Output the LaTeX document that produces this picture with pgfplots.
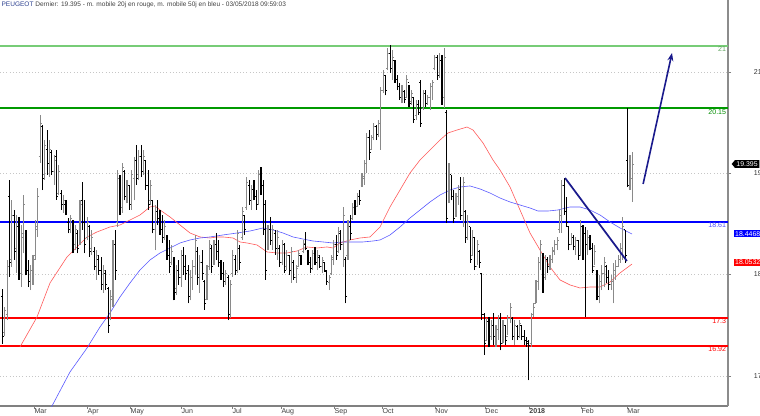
\documentclass[border=0pt]{standalone}
\usepackage{pgfplots}
\pgfplotsset{compat=1.18}
\usepackage{pgfplotstable}
\usepackage{fontspec}
\setmainfont{Liberation Sans}
\usetikzlibrary{shapes.symbols,arrows.meta}
\definecolor{barG}{HTML}{8A8A8A}
\definecolor{lvgreenA}{HTML}{77CC77}
\definecolor{lvgreenB}{HTML}{009900}
\definecolor{navyT}{HTML}{1A1A8C}
\pgfdeclareplotmark{otick}{\pgfpathmoveto{\pgfqpoint{-\pgfplotmarksize}{0pt}}\pgfpathlineto{\pgfqpoint{0pt}{0pt}}\pgfusepathqstroke}
\pgfdeclareplotmark{ctick}{\pgfpathmoveto{\pgfqpoint{0pt}{0pt}}\pgfpathlineto{\pgfqpoint{\pgfplotmarksize}{0pt}}\pgfusepathqstroke}
\pgfplotstableread{
i lo hi op cl
0 16.95 17.70 17.60 17.05
1 17.05 17.45 17.10 17.40
2 17.27 18.09 17.35 18.00
3 17.86 19.18 18.95 18.05
4 18.00 18.90 18.10 18.70
5 18.09 18.77 18.70 18.20
6 17.91 18.70 18.25 18.55
7 17.82 18.67 18.55 17.95
8 17.72 18.57 17.90 18.45
9 18.18 18.97 18.40 18.85
10 17.88 18.50 18.45 17.95
11 17.72 18.09 17.95 17.80
12 17.68 18.02 17.80 17.95
13 17.75 18.16 17.90 18.10
14 18.09 18.63 18.15 18.55
15 18.40 19.07 18.50 18.95
16 19.41 20.06 19.50 19.95
17 19.04 19.93 19.90 19.20
18 19.18 19.72 19.25 19.65
19 19.25 19.86 19.60 19.40
20 19.22 19.72 19.40 19.60
21 19.25 19.59 19.55 19.30
22 19.11 19.52 19.30 19.45
23 18.91 19.59 19.50 18.95
24 18.97 19.38 19.00 19.30
25 18.77 19.04 19.00 18.85
26 18.73 18.97 18.85 18.90
27 18.70 18.90 18.85 18.75
28 18.45 18.66 18.60 18.50
29 18.45 18.70 18.50 18.65
30 18.18 18.63 18.60 18.25
31 18.22 18.57 18.30 18.50
32 18.18 18.50 18.45 18.25
33 18.29 18.90 18.30 18.85
34 18.50 19.15 18.90 18.60
35 18.18 18.90 18.60 18.30
36 18.36 18.67 18.40 18.60
37 18.13 18.57 18.55 18.20
38 18.16 18.50 18.25 18.40
39 17.95 18.26 18.20 18.00
40 17.82 18.22 18.00 18.15
41 17.89 18.16 18.10 17.95
42 17.68 18.13 17.95 17.75
43 17.64 18.02 17.75 17.95
44 17.68 17.95 17.90 17.75
45 17.10 17.72 17.70 17.20
46 17.27 17.68 17.30 17.60
47 17.45 18.36 17.55 18.30
48 17.82 18.50 18.30 17.95
49 18.54 19.31 18.60 19.20
50 18.70 19.24 19.20 18.80
51 18.73 19.41 18.80 19.35
52 18.90 19.31 19.30 18.95
53 18.86 19.18 18.95 19.10
54 18.77 19.11 19.10 18.85
55 18.77 19.31 18.85 19.25
56 18.90 19.49 19.20 19.45
57 19.11 19.65 19.45 19.20
58 19.18 19.59 19.25 19.50
59 19.22 19.65 19.50 19.30
60 19.25 19.59 19.30 19.50
61 19.04 19.45 19.45 19.10
62 18.77 19.31 19.10 18.85
63 18.84 19.18 18.90 19.10
64 18.45 18.90 18.90 18.50
65 18.22 18.84 18.50 18.75
66 18.57 18.90 18.75 18.65
67 18.43 18.77 18.65 18.50
68 18.32 18.70 18.50 18.40
69 18.36 18.63 18.40 18.55
70 18.09 18.43 18.40 18.15
71 17.91 18.36 18.15 18.00
72 18.02 18.29 18.05 18.20
73 17.54 18.13 18.10 17.65
74 17.61 18.02 17.70 17.95
75 17.75 18.09 17.95 17.85
76 17.72 18.22 17.85 18.15
77 17.89 18.26 18.15 18.00
78 17.82 18.16 18.00 17.90
79 17.50 18.02 17.95 17.60
80 17.54 17.95 17.60 17.85
81 17.68 18.09 17.85 18.00
82 17.89 18.43 18.00 18.35
83 17.75 18.26 18.20 17.85
84 17.64 18.16 17.85 18.05
85 17.82 18.22 18.05 17.90
86 17.41 17.82 17.80 17.50
87 17.54 18.02 17.55 17.95
88 17.95 18.36 18.00 18.30
89 17.91 18.29 18.25 18.00
90 18.02 18.36 18.05 18.30
91 18.09 18.46 18.30 18.20
92 17.99 18.36 18.20 18.05
93 17.82 18.09 18.05 17.90
94 17.72 18.06 17.90 17.80
95 17.75 17.95 17.80 17.90
96 17.27 17.89 17.85 17.35
97 17.30 17.82 17.35 17.75
98 17.86 18.22 17.90 18.15
99 17.89 18.16 18.10 17.95
100 17.91 18.50 17.95 18.45
101 17.95 18.29 18.25 18.05
102 18.36 18.81 18.40 18.75
103 18.43 18.70 18.70 18.50
104 18.77 19.22 18.80 19.15
105 18.84 19.18 19.10 18.90
106 18.77 19.11 18.90 19.05
107 18.90 19.18 19.05 18.95
108 18.77 19.04 18.95 18.85
109 18.84 19.31 18.85 19.25
110 18.97 19.35 19.25 19.05
111 18.43 19.18 19.10 18.50
112 17.82 18.90 18.85 17.95
113 18.22 18.57 18.30 18.50
114 18.29 18.67 18.50 18.35
115 18.22 18.57 18.35 18.50
116 18.16 18.50 18.45 18.25
117 18.09 18.50 18.25 18.40
118 17.99 18.29 18.25 18.05
119 18.02 18.36 18.05 18.30
120 17.91 18.32 18.30 17.95
121 17.95 18.22 18.00 18.15
122 17.89 18.16 18.15 17.95
123 17.78 18.26 17.95 18.20
124 17.82 18.09 18.05 17.85
125 17.78 18.02 17.85 17.98
126 18.00 18.22 18.00 18.18
127 18.02 18.16 18.15 18.05
128 18.18 18.36 18.20 18.32
129 18.22 18.47 18.30 18.25
130 18.02 18.22 18.20 18.05
131 17.91 18.13 18.05 17.98
132 17.95 18.22 17.98 18.18
133 18.02 18.26 18.15 18.05
134 17.95 18.22 18.05 18.15
135 17.98 18.16 18.12 18.00
136 17.91 18.13 18.00 18.08
137 17.93 18.06 18.05 17.95
138 17.75 17.95 17.93 17.80
139 17.68 17.89 17.78 17.85
140 17.89 18.16 17.90 18.12
141 18.02 18.36 18.10 18.30
142 18.09 18.43 18.30 18.15
143 18.18 18.54 18.20 18.48
144 18.22 18.50 18.45 18.30
145 18.00 18.81 18.30 18.70
146 17.50 18.13 18.10 17.60
147 18.09 18.63 18.15 18.55
148 18.36 18.70 18.55 18.45
149 18.63 18.86 18.65 18.80
150 18.70 18.90 18.80 18.75
151 18.81 19.00 18.82 18.95
152 18.84 19.04 18.95 18.90
153 19.08 19.27 19.10 19.22
154 19.11 19.45 19.20 19.40
155 19.27 19.82 19.40 19.75
156 19.45 19.86 19.75 19.55
157 19.59 19.79 19.60 19.75
158 19.72 19.95 19.75 19.90
159 19.72 19.93 19.90 19.80
160 19.76 19.99 19.80 19.95
161 19.59 20.44 19.95 20.40
162 20.36 20.67 20.40 20.60
163 20.33 20.61 20.60 20.40
164 20.67 20.97 20.70 20.90
165 20.63 21.01 20.90 20.70
166 20.54 20.95 20.70 20.85
167 20.50 20.81 20.80 20.55
168 20.40 20.61 20.55 20.45
169 20.27 20.50 20.45 20.30
170 20.22 20.47 20.30 20.40
171 20.22 20.40 20.38 20.28
172 20.31 20.61 20.30 20.55
173 20.17 20.47 20.50 20.22
174 20.20 20.40 20.25 20.35
175 19.95 20.31 20.30 20.00
176 19.99 20.27 20.05 20.20
177 20.06 20.27 20.20 20.10
178 19.90 20.54 20.50 19.95
179 20.13 20.40 20.15 20.35
180 20.17 20.40 20.35 20.22
181 20.20 20.33 20.22 20.30
182 20.13 20.50 20.30 20.45
183 20.27 20.54 20.45 20.50
184 20.67 20.88 20.70 20.85
185 20.54 20.88 20.85 20.60
186 20.57 20.90 20.60 20.80
187 20.20 20.88 20.80 20.30
188 20.16 20.97 20.30 20.85
189 18.59 20.13 20.10 18.65
190 18.86 19.41 18.90 19.30
191 18.90 19.25 19.25 18.95
192 18.59 19.04 18.95 18.65
193 18.67 19.00 18.70 18.95
194 18.84 19.11 18.95 19.05
195 18.63 19.22 19.05 18.70
196 18.54 19.22 18.70 19.15
197 18.32 18.77 18.75 18.40
198 18.36 18.70 18.40 18.60
199 18.05 18.54 18.55 18.10
200 18.16 18.50 18.15 18.40
201 17.95 18.40 18.40 18.00
202 18.02 18.36 18.00 18.30
203 17.98 18.22 18.20 18.05
204 17.27 17.91 17.90 17.35
205 16.80 17.37 17.35 16.95
206 17.00 17.30 17.00 17.25
207 16.91 17.31 17.25 17.00
208 17.00 17.27 17.05 17.20
209 16.93 17.37 17.20 17.05
210 16.91 17.20 17.05 17.15
211 17.00 17.34 17.15 17.30
212 16.86 17.37 17.30 16.95
213 16.96 17.27 16.95 17.20
214 16.93 17.20 17.20 17.00
215 17.07 17.34 17.05 17.30
216 17.23 17.50 17.30 17.45
217 17.00 17.31 17.30 17.05
218 16.93 17.27 17.05 17.20
219 17.00 17.20 17.18 17.05
220 17.03 17.27 17.05 17.22
221 17.00 17.20 17.20 17.05
222 16.93 17.14 17.05 17.00
223 16.91 17.04 17.00 16.95
224 16.45 17.00 16.98 16.92
225 16.91 17.37 16.95 17.35
226 17.31 17.50 17.35 17.45
227 17.50 17.82 17.50 17.80
228 17.68 18.13 17.80 18.05
229 17.95 18.36 18.05 18.30
230 17.64 18.18 18.15 17.70
231 17.82 18.16 17.85 18.10
232 17.91 18.13 18.10 18.00
233 17.95 18.16 18.00 18.10
234 18.05 18.26 18.10 18.22
235 18.16 18.36 18.20 18.30
236 18.22 18.40 18.30 18.35
237 18.46 18.77 18.50 18.70
238 18.46 19.18 18.70 19.10
239 18.70 19.20 19.10 18.75
240 18.54 18.95 18.75 18.60
241 18.22 18.54 18.55 18.30
242 18.29 18.46 18.30 18.40
243 18.22 18.43 18.40 18.28
244 18.16 18.40 18.28 18.35
245 18.09 18.36 18.35 18.15
246 18.16 18.63 18.15 18.55
247 18.09 18.57 18.55 18.15
248 17.31 18.54 18.45 18.30
249 18.16 18.50 18.30 18.40
250 18.22 18.43 18.40 18.25
251 17.91 18.32 18.25 17.95
252 18.02 18.29 18.00 18.20
253 17.54 17.95 17.95 17.60
254 17.50 17.89 17.60 17.80
255 17.68 18.02 17.80 17.90
256 17.72 18.13 17.90 18.05
257 17.78 18.02 18.00 17.85
258 17.68 17.95 17.85 17.75
259 17.68 17.89 17.75 17.80
260 17.50 18.05 17.80 17.95
261 17.82 18.09 17.95 18.00
262 17.99 18.16 18.00 18.10
263 18.05 18.32 18.10 18.25
264 18.09 18.68 18.25 18.55
265 18.05 18.50 18.50 18.15
266 19.08 20.16 19.45 19.10
267 19.04 19.52 19.10 19.40
268 18.88 19.56 19.20 19.395
}\bars
\begin{document}
\begin{tikzpicture}
\useasboundingbox (0pt,-6.75pt) rectangle (570pt,304.5pt);
\begin{axis}[
  at={(0pt,0pt)}, anchor=south west,
  scale only axis, width=546pt, height=304.5pt,
  xmin=-1.064, xmax=308.72, ymin=16.102, ymax=21.626,
  axis x line*=bottom, axis y line*=right,
  x axis line style={draw=gray, line width=0.9pt, -},
  y axis line style={draw=gray!90, line width=1.4pt, -},
  tick align=outside, major tick length=2.4pt,
  tick style={gray, line width=0.6pt},
  xtick={13.4,36.0,54.3,76.0,97.7,118.5,141.1,161.5,184.0,205.3,224.0,246.2,265.7},
  xticklabels={Mar,Apr,May,Jun,Jul,Aug,Sep,Oct,Nov,Dec,\textbf{2018},Feb,Mar},
  xticklabel style={anchor=north west, xshift=-0.6pt, yshift=1.6pt, font=\fontsize{5.3}{6}\selectfont, text=black!75, inner sep=0.8pt},
  ytick={16.51,17.898,19.272,20.646},
  yticklabels={17,18,19,21},
  yticklabel style={anchor=west, xshift=13.5pt, font=\fontsize{5.3}{6}\selectfont, text=black!80},
  ymajorgrids, major grid style={gray!45, dotted, line width=0.5pt},
  /pgf/number format/assume math mode=true,
  clip=true,
]
% support / resistance levels
\addplot[lvgreenA, line width=0.8pt] coordinates {(-1.064,21.0) (308.72,21.0)};
\addplot[lvgreenB, line width=1.5pt] coordinates {(-1.064,20.15) (308.72,20.15)};
\addplot[blue, line width=1.6pt] coordinates {(-1.064,18.61) (308.72,18.61)};
\addplot[red, line width=1.5pt] coordinates {(-1.064,17.30) (308.72,17.30)};
\addplot[red, line width=1.5pt] coordinates {(-1.064,16.92) (308.72,16.92)};
% moving averages
\addplot[red!65, line width=0.45pt] coordinates {
(7.45,16.905) (14.68,17.313) (20.21,17.776) (27.45,18.130) (31.70,18.266) (35.96,18.402)
(40.21,18.470) (45.74,18.538) (50.0,18.565) (54.26,18.633) (58.51,18.701) (62.77,18.810)
(64.89,18.823) (67.02,18.769) (71.28,18.674) (75.53,18.565) (79.79,18.456) (84.04,18.402)
(88.30,18.388) (91.28,18.402) (93.83,18.402) (98.09,18.388) (101.06,18.334) (104.04,18.320)
(108.30,18.293) (112.55,18.198) (116.81,18.184) (121.06,18.184) (125.32,18.211) (129.57,18.266)
(133.83,18.252) (138.09,18.266) (140.64,18.252) (143.62,18.320) (147.87,18.361) (152.13,18.388)
(156.38,18.402) (160.64,18.538) (164.89,18.810) (169.15,19.041) (173.40,19.272) (177.66,19.449)
(181.91,19.585) (186.17,19.721) (189.57,19.817) (193.40,19.857) (197.66,19.898) (200.21,19.857)
(204.47,19.681) (208.72,19.449) (211.70,19.313) (215.96,19.082) (220.21,18.769) (224.47,18.456)
(228.72,18.225) (232.98,17.993) (237.23,17.817) (241.49,17.749) (245.74,17.708) (250.0,17.721)
(254.26,17.721) (258.51,17.789) (262.77,17.912) (267.87,18.034)};
\addplot[blue!65, line width=0.45pt] coordinates {
(18.09,15.912) (21.06,16.102) (28.72,16.565) (35.96,16.891) (41.49,17.177) (45.74,17.368)
(50.0,17.585) (54.26,17.776) (58.51,17.953) (62.77,18.089) (67.02,18.184) (71.28,18.252)
(75.53,18.320) (79.79,18.361) (84.04,18.388) (88.30,18.402) (93.83,18.429) (99.79,18.456)
(105.32,18.483) (110.85,18.524) (115.11,18.497) (119.36,18.456) (123.62,18.402) (127.87,18.374)
(132.13,18.347) (136.38,18.334) (140.64,18.320) (144.89,18.334) (149.15,18.334) (153.40,18.334)
(157.66,18.347) (160.64,18.361) (164.89,18.429) (169.15,18.538) (173.40,18.660) (177.66,18.769)
(181.91,18.878) (186.17,18.973) (190.43,19.041) (194.68,19.082) (198.94,19.096) (203.19,19.055)
(207.45,19.000) (211.70,18.932) (215.96,18.878) (220.21,18.837) (224.47,18.796) (227.87,18.755)
(232.13,18.755) (236.38,18.769) (241.49,18.810) (245.74,18.810) (250.0,18.769) (254.26,18.701)
(258.51,18.606) (262.77,18.524) (267.87,18.442)};
% OHLC bars: up days grey, down days black
\addplot[draw=none, mark=none,
  x filter/.expression={\thisrow{cl}<\thisrow{op} ? nan : x},
  error bars/.cd, y dir=plus, y explicit, error mark=none,
  error bar style={draw=barG, solid, line width=0.85pt}]
  table[x=i, y=lo, y error expr=\thisrow{hi}-\thisrow{lo}] {\bars};
\addplot[draw=none, mark=none,
  x filter/.expression={\thisrow{cl}<\thisrow{op} ? x : nan},
  error bars/.cd, y dir=plus, y explicit, error mark=none,
  error bar style={draw=black, solid, line width=0.85pt}]
  table[x=i, y=lo, y error expr=\thisrow{hi}-\thisrow{lo}] {\bars};
\addplot[barG, only marks, mark=otick, mark size=1.1pt, mark options={line width=0.6pt},
  x filter/.expression={\thisrow{cl}<\thisrow{op} ? nan : x}] table[x=i, y=op] {\bars};
\addplot[barG, only marks, mark=ctick, mark size=1.1pt, mark options={line width=0.6pt},
  x filter/.expression={\thisrow{cl}<\thisrow{op} ? nan : x}] table[x=i, y=cl] {\bars};
\addplot[black, only marks, mark=otick, mark size=1.1pt, mark options={line width=0.6pt},
  x filter/.expression={\thisrow{cl}<\thisrow{op} ? x : nan}] table[x=i, y=op] {\bars};
\addplot[black, only marks, mark=ctick, mark size=1.1pt, mark options={line width=0.6pt},
  x filter/.expression={\thisrow{cl}<\thisrow{op} ? x : nan}] table[x=i, y=cl] {\bars};
% drawn trend line and arrow
\addplot[navyT, line width=1.3pt] coordinates {(239.4,19.204) (265.7,18.075)};
\addplot[navyT, line width=1.2pt, -{Stealth[length=6pt,width=4.5pt]}] coordinates {(272.6,19.123) (284.9,20.905)};
% level labels
\node[anchor=north east, inner sep=0.5pt, font=\fontsize{5.3}{6}\selectfont, text=lvgreenA!80!black] at (axis cs:308.3,21.0) {21};
\node[anchor=north east, inner sep=0.5pt, font=\fontsize{5.3}{6}\selectfont, text=green!55!black] at (axis cs:308.3,20.15) {20.15};
\node[anchor=north east, inner sep=0.5pt, font=\fontsize{5.3}{6}\selectfont, text=blue!70] at (axis cs:308.3,18.61) {18.61};
\node[anchor=north east, inner sep=0.5pt, font=\fontsize{5.3}{6}\selectfont, text=red] at (axis cs:308.3,17.30) {17.3};
\node[anchor=north east, inner sep=0.5pt, font=\fontsize{5.3}{6}\selectfont, text=red] at (axis cs:308.3,16.92) {16.92};
\end{axis}
% title
\node[anchor=north west, inner sep=0pt, font=\fontsize{4.9}{6}\selectfont, text=black!75] at (1pt,303.2pt)
  {\textcolor[HTML]{2B3F8F}{PEUGEOT} Dernier: 19.395 - m. mobile 20j en rouge, m. mobile 50j en bleu - 03/05/2018 09:59:03};
% price tags on the right
\node[signal, signal to=west, signal pointer angle=100, fill=black, text=white, inner xsep=1.2pt, inner ysep=1pt,
  font=\fontsize{5.2}{6}\selectfont, anchor=west] at (548.5pt,{(19.395-16.102)/(21.626-16.102)*304.5pt}) {19.395};
\node[fill=blue, text=white, inner xsep=1.2pt, inner ysep=1pt, font=\fontsize{5.2}{6}\selectfont, anchor=west]
  at (550pt,{(18.4468-16.102)/(21.626-16.102)*304.5pt}) {18.4468};
\node[fill=red, text=white, inner xsep=1.2pt, inner ysep=1pt, font=\fontsize{5.2}{6}\selectfont, anchor=west]
  at (550pt,{(18.0532-16.102)/(21.626-16.102)*304.5pt}) {18.0532};
\end{tikzpicture}
\end{document}
